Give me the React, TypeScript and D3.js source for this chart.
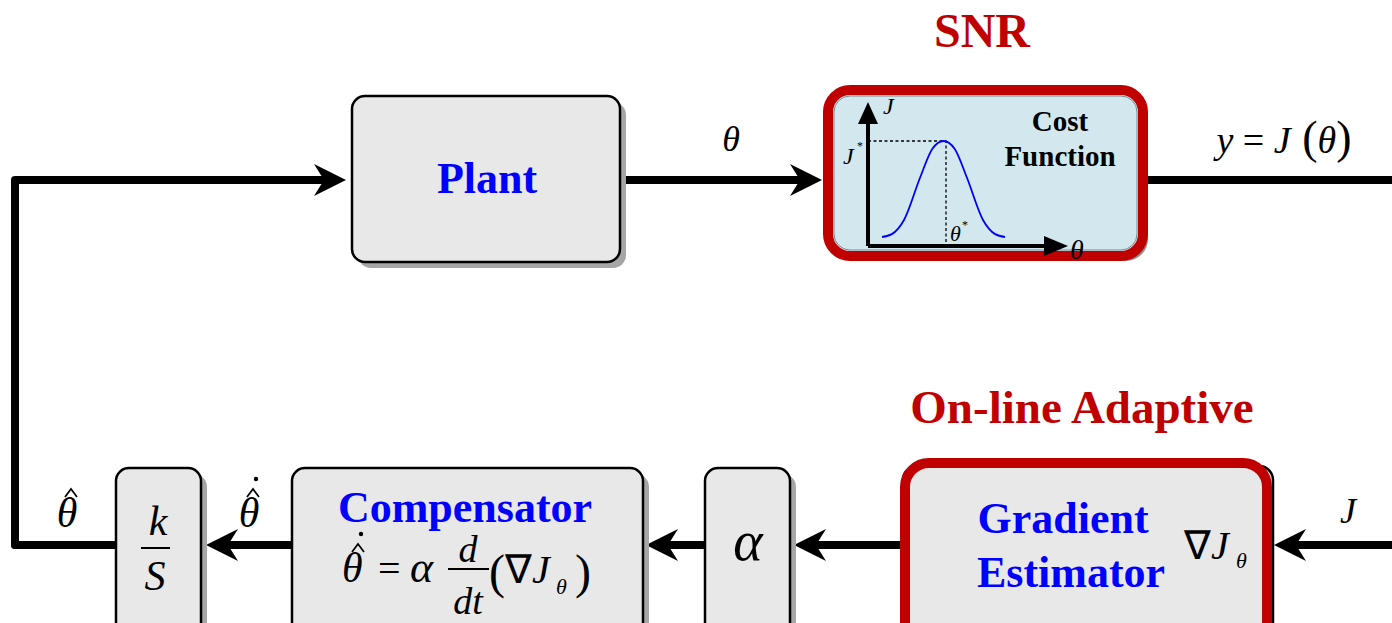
import React from "react";
import * as d3 from "d3";

const W = 1392, H = 623;

// Blocks: name, x, y, w, h
const blockNames = ["plant", "ks", "comp", "alpha", "grad", "cost"];
const blockX = [352, 116, 292, 705, 905, 828];
const blockY = [96, 468, 468, 468, 466, 90];
const blockW = [268, 85, 351, 85, 365, 315];
const blockH = [166, 200, 200, 200, 200, 166];

// Signal lines (polylines) and arrow flags
const wires: [number, number][][] = [
  [[15, 545], [15, 180], [346, 180]],
  [[620, 180], [822, 180]],
  [[1148, 180], [1392, 180]],
  [[15, 545], [116, 545]],
  [[292, 545], [206, 545]],
  [[705, 545], [646, 545]],
  [[905, 545], [794, 545]],
  [[1392, 545], [1274, 545]],
];
const wireArrow = [true, true, false, false, true, true, true, true];

// Cost curve sketch points (theta, J)
const curveTheta = [0, 0.08, 0.18, 0.31, 0.41, 0.5, 0.59, 0.69, 0.82, 0.92, 1];
const curveJ = [0.0, 0.03, 0.18, 0.62, 0.92, 1, 0.92, 0.62, 0.18, 0.03, 0.0];

export default function App() {
  const xs = d3.scaleLinear().domain([0, 1]).range([882, 1005]);
  const ys = d3.scaleLinear().domain([0, 1]).range([237, 141]);
  const curvePts = curveTheta.map((t, i) => [xs(t), ys(curveJ[i])] as [number, number]);
  const curvePath = d3.line().curve(d3.curveMonotoneX)(curvePts) || "";
  const lineGen = d3.line();

  const arrowHead = (pts: [number, number][]) => {
    const [x1, y1] = pts[pts.length - 2];
    const [x2, y2] = pts[pts.length - 1];
    const ang = Math.atan2(y2 - y1, x2 - x1);
    const L = 32, Wd = 16, back = 22;
    const p = (dx: number, dy: number) =>
      [x2 + dx * Math.cos(ang) - dy * Math.sin(ang), y2 + dx * Math.sin(ang) + dy * Math.cos(ang)];
    const a = p(0, 0), b = p(-L, -Wd), c = p(-back, 0), d = p(-L, Wd);
    return `M${a}L${b}L${c}L${d}Z`;
  };
  const shorten = (pts: [number, number][], arrow: boolean) => {
    if (!arrow) return pts;
    const out = pts.map((p) => [...p] as [number, number]);
    const n = out.length;
    const [x1, y1] = out[n - 2];
    const [x2, y2] = out[n - 1];
    const len = Math.hypot(x2 - x1, y2 - y1);
    out[n - 1] = [x2 - ((x2 - x1) / len) * 22, y2 - ((y2 - y1) / len) * 22];
    return out;
  };

  const serif = "'Liberation Serif', 'Times New Roman', serif";
  const idx = (n: string) => blockNames.indexOf(n);

  const plainBox = (n: string) => {
    const i = idx(n);
    return (
      <g key={n}>
        <rect x={blockX[i] + 6} y={blockY[i] + 6} width={blockW[i]} height={blockH[i]} rx={13} fill="#a6a6a6" />
        <rect x={blockX[i]} y={blockY[i]} width={blockW[i]} height={blockH[i]} rx={13} fill="#e8e8e8" stroke="#000" strokeWidth={2.5} />
      </g>
    );
  };

  // hat (caret) centred at cx, top of caret at y
  const hat = (cx: number, y: number, w = 12, h = 8) => (
    <path d={`M${cx - w / 2},${y + h} L${cx},${y} L${cx + w / 2},${y + h}`} fill="none" stroke="#000" strokeWidth={1.7} />
  );

  const ci = idx("cost");
  const gi = idx("grad");

  return (
    <svg width={W} height={H} style={{ display: "block", position: "absolute", left: 0, top: 0 }}>
      <rect width={W} height={H} fill="#fff" />
      {wires.map((w, i) => (
        <g key={i}>
          <path d={lineGen(shorten(w, wireArrow[i])) || ""} fill="none" stroke="#000" strokeWidth={8} strokeLinejoin="round" strokeLinecap="round" />
          {wireArrow[i] && <path d={arrowHead(w)} fill="#000" />}
        </g>
      ))}
      {["plant", "ks", "comp", "alpha"].map(plainBox)}

      {/* cost function box */}
      <rect x={blockX[ci] + 5} y={blockY[ci] + 5} width={blockW[ci]} height={blockH[ci]} rx={22} fill="#8f8f8f" />
      <rect x={blockX[ci]} y={blockY[ci]} width={blockW[ci]} height={blockH[ci]} rx={22} fill="#d2e8ee" stroke="#c00000" strokeWidth={10} />
      <rect x={blockX[ci] + 6} y={blockY[ci] + 6} width={blockW[ci] - 12} height={blockH[ci] - 12} rx={16} fill="none" stroke="#7a8a90" strokeWidth={1} />
      <line x1={868} y1={246} x2={868} y2={118} stroke="#000" strokeWidth={4} />
      <path d="M868,102 L858,124 L878,124 Z" fill="#000" />
      <line x1={868} y1={246} x2={1050} y2={246} stroke="#000" strokeWidth={4} />
      <path d="M1068,246 L1044,236 L1044,256 Z" fill="#000" />
      <path d="M868,141 H946 V246" fill="none" stroke="#000" strokeWidth={1.3} strokeDasharray="3,2.5" />
      <path d={curvePath} fill="none" stroke="#0000ff" strokeWidth={1.8} />
      <text x={883} y={114} fontFamily={serif} fontStyle="italic" fontSize={24}>J</text>
      <text x={843} y={164} fontFamily={serif} fontStyle="italic" fontSize={24}>J</text>
      <text x={857} y={150} fontFamily={serif} fontSize={12}>*</text>
      <text x={950} y={241} fontFamily={serif} fontStyle="italic" fontSize={22}>θ</text>
      <text x={962} y={229} fontFamily={serif} fontSize={12}>*</text>
      <text x={1070} y={259} fontFamily={serif} fontStyle="italic" fontSize={28}>θ</text>
      <text x={1060} y={131} textAnchor="middle" fontFamily={serif} fontWeight="bold" fontSize={29}>Cost</text>
      <text x={1060} y={166} textAnchor="middle" fontFamily={serif} fontWeight="bold" fontSize={29}>Function</text>
      <text x={982} y={47} textAnchor="middle" fontFamily={serif} fontWeight="bold" fontSize={48} fill="#c00000">SNR</text>

      {/* gradient estimator */}
      <rect x={blockX[gi] - 2} y={blockY[gi]} width={blockW[gi] + 5} height={blockH[gi]} rx={14} fill="#e8e8e8" stroke="#000" strokeWidth={2.5} />
      <rect x={blockX[gi]} y={blockY[gi] - 3} width={blockW[gi] - 3} height={blockH[gi]} rx={24} fill="#e8e8e8" stroke="#c00000" strokeWidth={10} />
      <text x={1063} y={533} textAnchor="middle" fontFamily={serif} fontWeight="bold" fontSize={44} fill="#0000ff">Gradient</text>
      <text x={1071} y={587} textAnchor="middle" fontFamily={serif} fontWeight="bold" fontSize={44} fill="#0000ff">Estimator</text>
      <text x={1184} y={559} fontFamily={serif} fontSize={40}>∇<tspan fontStyle="italic">J</tspan></text>
      <text x={1236} y={568} fontFamily={serif} fontStyle="italic" fontSize={22}>θ</text>
      <text x={1082} y={423} textAnchor="middle" fontFamily={serif} fontWeight="bold" fontSize={47} fill="#c00000">On-line Adaptive</text>

      {/* Plant */}
      <text x={487} y={193} textAnchor="middle" fontFamily={serif} fontWeight="bold" fontSize={44} fill="#0000ff">Plant</text>
      <text x={731} y={151} textAnchor="middle" fontFamily={serif} fontStyle="italic" fontSize={36}>θ</text>
      <text x={1284} y={153} textAnchor="middle" fontFamily={serif} fontSize={38}>
        <tspan fontStyle="italic">y</tspan> = <tspan fontStyle="italic">J</tspan><tspan fontSize={46}> (</tspan><tspan fontStyle="italic">θ</tspan><tspan fontSize={46}>)</tspan>
      </text>

      {/* k/S */}
      <text x={158} y={535} textAnchor="middle" fontFamily={serif} fontStyle="italic" fontSize={42}>k</text>
      <line x1={141} y1={548} x2={170} y2={548} stroke="#000" strokeWidth={2} />
      <text x={155} y={590} textAnchor="middle" fontFamily={serif} fontStyle="italic" fontSize={42}>S</text>
      <text x={67} y={527} textAnchor="middle" fontFamily={serif} fontStyle="italic" fontSize={42}>θ</text>
      {hat(71, 489)}
      <text x={249} y={527} textAnchor="middle" fontFamily={serif} fontStyle="italic" fontSize={42}>θ</text>
      {hat(253, 489)}
      <circle cx={256} cy={479} r={2.2} fill="#000" />

      {/* compensator */}
      <text x={465} y={522} textAnchor="middle" fontFamily={serif} fontWeight="bold" fontSize={44} fill="#0000ff">Compensator</text>
      <text x={342} y={582} fontFamily={serif} fontStyle="italic" fontSize={42}>θ</text>
      {hat(358, 544)}
      <circle cx={361} cy={534} r={2.2} fill="#000" />
      <text x={378} y={582} fontFamily={serif} fontSize={40}>=</text>
      <text x={410} y={582} fontFamily={serif} fontStyle="italic" fontSize={44}>α</text>
      <text x={468} y={562} textAnchor="middle" fontFamily={serif} fontStyle="italic" fontSize={38}>d</text>
      <line x1={448} y1={569} x2={489} y2={569} stroke="#000" strokeWidth={1.8} />
      <text x={468} y={614} textAnchor="middle" fontFamily={serif} fontStyle="italic" fontSize={38}>dt</text>
      <text x={489} y={588} fontFamily={serif} fontSize={48}>(</text>
      <text x={505} y={583} fontFamily={serif} fontSize={40}>∇<tspan fontStyle="italic">J</tspan></text>
      <text x={556} y={594} fontFamily={serif} fontStyle="italic" fontSize={22}>θ</text>
      <text x={575} y={588} fontFamily={serif} fontSize={48}>)</text>

      {/* alpha */}
      <text x={748} y={560} textAnchor="middle" fontFamily={serif} fontStyle="italic" fontSize={56}>α</text>
      <text x={1348} y={523} textAnchor="middle" fontFamily={serif} fontStyle="italic" fontSize={36}>J</text>
    </svg>
  );
}
